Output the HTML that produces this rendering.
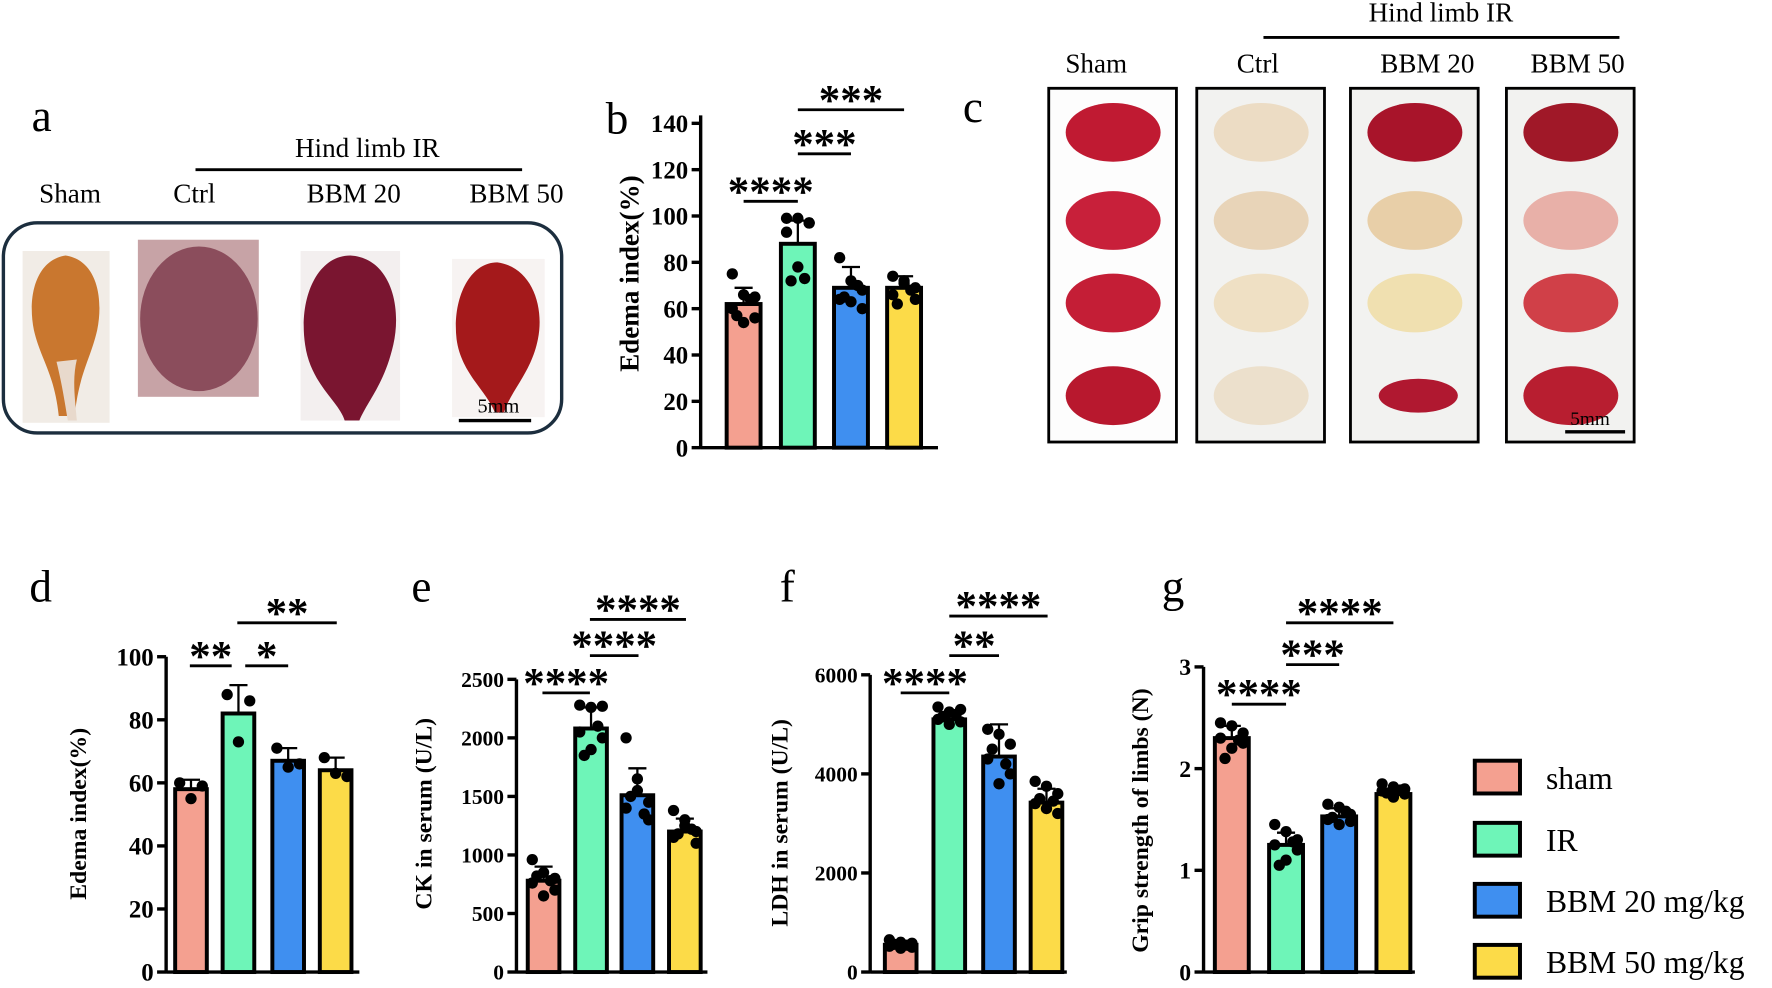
<!DOCTYPE html>
<html><head><meta charset="utf-8"><style>
html,body{margin:0;padding:0;background:#fff}
svg{display:block}
text{font-family:"Liberation Serif",serif}
</style></head><body>
<svg id="fig" width="1772" height="988" viewBox="0 0 1568 874" xmlns="http://www.w3.org/2000/svg">
<!-- Panel a -->
<g>
<text x="28" y="116" font-size="40">a</text>
<text x="325" y="139" font-size="24" text-anchor="middle">Hind limb IR</text>
<line x1="173" y1="150" x2="462" y2="150" stroke="#000" stroke-width="2.5"/>
<text x="62" y="179" font-size="24" text-anchor="middle">Sham</text>
<text x="172" y="179" font-size="24" text-anchor="middle">Ctrl</text>
<text x="313" y="179" font-size="24" text-anchor="middle">BBM 20</text>
<text x="457" y="179" font-size="24" text-anchor="middle">BBM 50</text>
<rect x="3" y="197" width="494" height="186" rx="30" fill="none" stroke="#1c2e3e" stroke-width="3"/>
<rect x="20" y="222" width="77" height="152" fill="#f1ece6"/>
<path d="M58 226 C85 230 92 262 86 292 C80 318 70 330 66 368 L52 368 C48 330 36 318 30 292 C24 262 32 230 58 226Z" fill="#c9772f"/>
<path d="M50 320 C55 340 58 360 60 372 L68 372 C66 350 64 335 68 318Z" fill="#e8d9cc"/>
<rect x="122" y="212" width="107" height="139" fill="#c7a3a6"/>
<ellipse cx="176" cy="282" rx="52" ry="64" fill="#8b4d5c"/>
<rect x="266" y="222" width="88" height="150" fill="#f3efef"/>
<path d="M310 226 C345 228 356 270 348 305 C340 340 325 355 318 372 L305 372 C300 355 275 340 270 305 C264 265 280 226 310 226Z" fill="#7a1530"/>
<rect x="400" y="229" width="82" height="140" fill="#f7f3f2"/>
<path d="M440 232 C470 236 482 270 476 300 C470 330 452 345 446 365 L438 365 C430 345 408 330 404 300 C400 265 415 232 440 232Z" fill="#a4191b"/>
<line x1="406" y1="372" x2="470" y2="372" stroke="#000" stroke-width="3"/>
<text x="441" y="365" font-size="18" text-anchor="middle" font-family="Liberation Sans">5mm</text>
</g>
<!-- Panel c -->
<g>
<text x="852" y="108" font-size="40">c</text>
<text x="1275" y="19" font-size="24" text-anchor="middle">Hind limb IR</text>
<line x1="1118" y1="33" x2="1433" y2="33" stroke="#000" stroke-width="2.5"/>
<text x="970" y="64" font-size="24" text-anchor="middle">Sham</text>
<text x="1113" y="64" font-size="24" text-anchor="middle">Ctrl</text>
<text x="1263" y="64" font-size="24" text-anchor="middle">BBM 20</text>
<text x="1396" y="64" font-size="24" text-anchor="middle">BBM 50</text>
<g id="cboxes"></g>
<line x1="1385" y1="382" x2="1438" y2="382" stroke="#000" stroke-width="3"/>
<text x="1407" y="376" font-size="17" text-anchor="middle" font-family="Liberation Sans">5mm</text>
</g>
<g id="charts"></g>
<!-- Legend -->
<g id="legend"></g>
</svg>
<script>
const NS="http://www.w3.org/2000/svg";
const groups=["sham","IR","BBM 20 mg/kg","BBM 50 mg/kg"];
const colors=["#f4a090","#6ef5b8","#3f8ff0","#fcdb48"];

const bMeans=[62,88,69,69];
const bSD=[7,10,9,5];
const bPoints=[[75,66,65,60,56,54,57,64],[99,99,97,93,97,78,72,73],[82,72,68,64,60,63,65,70],[74,72,69,66,64,71,62,68]];
const bTicks=[0,20,40,60,80,100,120,140];

const dMeans=[58,82,67,64];
const dSD=[3,9,4,4];
const dPoints=[[60,59,55],[88,86,73],[71,66,65],[68,62,63]];
const dTicks=[0,20,40,60,80,100];

const eMeans=[780,2080,1510,1200];
const eSD=[120,180,230,110];
const ePoints=[[960,850,800,760,700,650,820,780],[2280,2260,2270,2050,2000,1900,1850,2100],[2000,1650,1450,1400,1300,1550,1500,1350],[1380,1250,1200,1150,1100,1300,1180,1220]];
const eTicks=[0,500,1000,1500,2000,2500];

const fMeans=[550,5100,4350,3420];
const fSD=[80,150,650,280];
const fPoints=[[650,600,500,520,580,480,560,540],[5350,5250,5300,5100,5050,5000,5150,5200],[4900,4800,4600,4300,4000,3800,4500,4200],[3850,3750,3600,3400,3200,3300,3500,3450]];
const fTicks=[0,2000,4000,6000];

const gMeans=[2.3,1.25,1.53,1.75];
const gSD=[0.12,0.12,0.08,0.05];
const gPoints=[[2.45,2.42,2.35,2.3,2.25,2.2,2.1,2.28],[1.45,1.38,1.3,1.25,1.2,1.1,1.05,1.28],[1.65,1.62,1.55,1.5,1.48,1.45,1.52,1.58],[1.85,1.82,1.8,1.78,1.75,1.72,1.76,1.79]];
const gTicks=[0,1,2,3];

function el(tag,attrs,parent,txt){const e=document.createElementNS(NS,tag);for(const k in attrs)e.setAttribute(k,attrs[k]);if(txt!==undefined)e.textContent=txt;parent.appendChild(e);return e;}

function chart(cfg){
  const g=el('g',{},document.getElementById('charts'));
  
  
  const y=v=>cfg.y0-(v/cfg.max)*(cfg.y0-cfg.ytop);
  const lab=el('text',{x:cfg.lx,y:cfg.ly,'font-size':40},g,cfg.id);
  
  
  const ax=el('line',{x1:cfg.ax,y1:cfg.y0+1,x2:cfg.ax,y2:cfg.ytop-14*(cfg.ext||0),stroke:'#000','stroke-width':3},g);
  
  
  const xa=el('line',{x1:cfg.ax,y1:cfg.y0,x2:cfg.xe,y2:cfg.y0,stroke:'#000','stroke-width':3},g);
  
  
  cfg.ticks.forEach(t=>{
    el('line',{x1:cfg.ax-8,y1:y(t),x2:cfg.ax,y2:y(t),stroke:'#000','stroke-width':3},g);
    const tl=el('text',{x:cfg.ax-11,y:y(t)+cfg.fs*0.35,'font-size':cfg.fs,'font-weight':'bold','text-anchor':'end'},g,t);
    
    
  });
  const yl=el('text',{x:0,y:0,'font-size':cfg.yfs,'font-weight':'bold','text-anchor':'middle',transform:`translate(${cfg.ylx},${cfg.yly}) rotate(-90)`},g,cfg.ylabel);
  
  
  cfg.means.forEach((m,i)=>{
    const cx=cfg.cx[i],w=cfg.bw;
    const b=el('rect',{x:cx-w/2,y:y(m),width:w,height:cfg.y0-y(m),fill:colors[i],stroke:'#000','stroke-width':3.5},g);
    
    
    el('line',{x1:cx,y1:y(m),x2:cx,y2:y(m+cfg.sd[i]),stroke:'#000','stroke-width':2},g);
    el('line',{x1:cx-8,y1:y(m+cfg.sd[i]),x2:cx+8,y2:y(m+cfg.sd[i]),stroke:'#000','stroke-width':2},g);
    const pts=cfg.pts[i];
    pts.forEach((p,k)=>{
      const off=pts.length<=3?[-10,10,0][k]:[-10,0,10,-10,10,0,-6,6][k%8];
      const d=el('circle',{cx:cx+off,cy:y(p),r:5,fill:'#000'},g);
      
      
    });
  });
  cfg.sig.forEach(s=>{
    el('line',{x1:s[0],y1:s[2],x2:s[1],y2:s[2],stroke:'#000','stroke-width':2.5},g);
    const st=el('text',{x:(s[0]+s[1])/2,y:s[2]+4,'font-size':38,'font-weight':'bold','text-anchor':'middle','font-family':'Liberation Sans'},g,s[3]);
    
    
  });
}
chart({id:'b',lx:536,ly:118,ax:620,xe:830,y0:396,ytop:109,max:140,ticks:bTicks,fs:22,ylabel:'Edema index(%)',yfs:24,ylx:565,yly:242,cx:[658,706,753,800],bw:30,means:bMeans,sd:bSD,pts:bPoints,ext:0.5,
 sig:[[658,706,178,'****'],[706,753,136,'***'],[706,800,97,'***']]});
chart({id:'d',lx:26,ly:532,ax:147,xe:318,y0:860,ytop:581,max:100,ticks:dTicks,fs:22,ylabel:'Edema index(%)',yfs:21,ylx:76,yly:720,cx:[169,211,255,297],bw:28,means:dMeans,sd:dSD,pts:dPoints,
 sig:[[168,205,589,'**'],[217,255,589,'*'],[210,298,551,'**']]});
chart({id:'e',lx:364,ly:532,ax:457,xe:626,y0:860,ytop:601,max:2500,ticks:eTicks,fs:19,ylabel:'CK in serum (U/L)',yfs:21,ylx:382,yly:720,cx:[481,523,564,606],bw:28,means:eMeans,sd:eSD,pts:ePoints,
 sig:[[480,522,613,'****'],[522,565,580,'****'],[522,607,548,'****']]});
chart({id:'f',lx:690,ly:532,ax:770,xe:944,y0:860,ytop:597,max:6000,ticks:fTicks,fs:19,ylabel:'LDH in serum (U/L)',yfs:21,ylx:697,yly:728,cx:[797,840,884,926],bw:28,means:fMeans,sd:fSD,pts:fPoints,
 sig:[[797,840,613,'****'],[840,884,580,'**'],[840,927,545,'****']]});
chart({id:'g',lx:1028,ly:532,ax:1065,xe:1252,y0:860,ytop:590,max:3,ticks:gTicks,fs:21,ylabel:'Grip strength of limbs (N)',yfs:21,ylx:1016,yly:726,cx:[1090,1138,1185,1233],bw:30,means:gMeans,sd:gSD,pts:gPoints,
 sig:[[1090,1138,623,'****'],[1138,1185,588,'***'],[1138,1233,551,'****']]});

// legend
const lg=document.getElementById('legend');
const legY=[673,728,782,836];
groups.forEach((n,i)=>{
  const r=el('rect',{x:1305,y:legY[i],width:40,height:29,fill:colors[i],stroke:'#000','stroke-width':3.5},lg);
  
  
  const t=el('text',{x:1368,y:legY[i]+25,'font-size':28},lg,n);
  
  
});

// panel c photo boxes
const cb=document.getElementById('cboxes');
const boxX=[928,1059,1195,1333];
const tissue=[["#c01a32","#c8203a","#c41e36","#b8182e"],["#ecdcc4","#e8d4b8","#efe0c4","#ece0cc"],["#a8142a","#e8cfa8","#f0e0b0","#b01830"],["#a01828","#e8b0a8","#d04048","#b81e30"]];
boxX.forEach((x,i)=>{
  const r=el('rect',{x:x,y:78,width:113,height:313,fill:i==0?'#fdfdfd':'#f2f2f0',stroke:'#000','stroke-width':2.5},cb);
  
  
  [117,195,268,350].forEach((cy,k)=>{
    if(i==2&&k==3){el('ellipse',{cx:x+60,cy:cy,rx:35,ry:15,fill:tissue[i][k]},cb);return;}
    el('ellipse',{cx:x+57,cy:cy,rx:42,ry:26,fill:tissue[i][k]},cb);
  });
});
</script>
</body></html>
